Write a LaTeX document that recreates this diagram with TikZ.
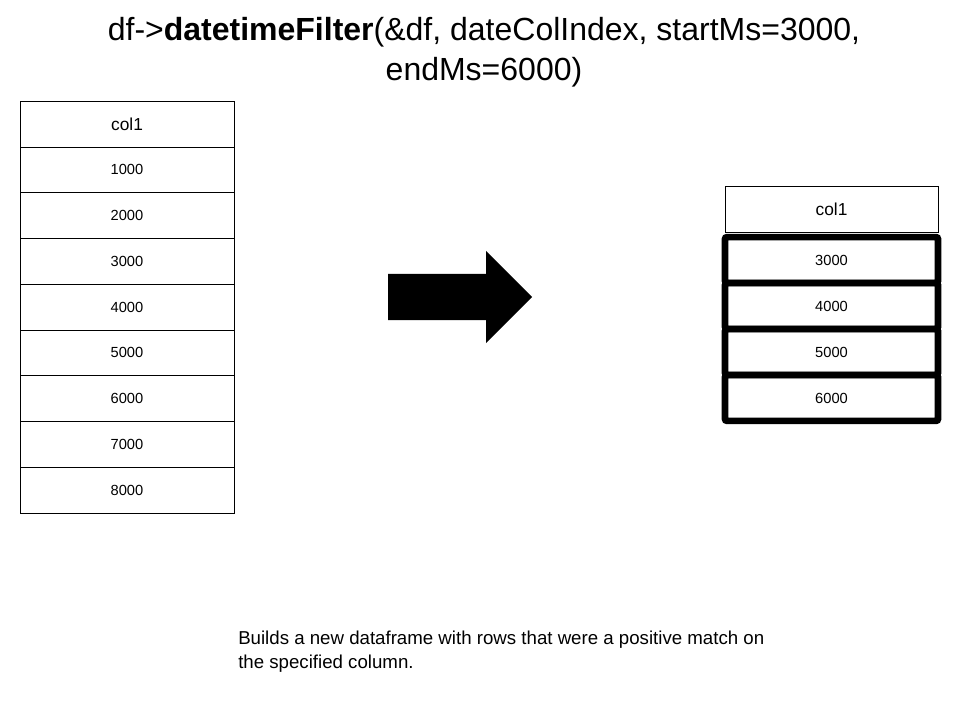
\documentclass[tikz,border=0pt]{standalone}
\usepackage{fontspec}
\setmainfont{Liberation Sans}
\usepackage{tikz}

\begin{document}
\begin{tikzpicture}[x=0.75pt, y=-0.75pt,
                    cell/.style={draw, rectangle, minimum width=160.5pt,
                                  minimum height=34.3pt, inner sep=0pt,
                                  font=\fontsize{11}{13}\selectfont},
                    head/.style={cell, font=\fontsize{13}{15}\selectfont},
                    hit/.style={cell, line width=5pt, rounded corners=1.5pt}]
                      \useasboundingbox (0,0) rectangle (960,720);

                      % title
                      \node[align=center, font=\fontsize{24}{30}\selectfont] (title) at (484,52)
                          {df->\textbf{datetimeFilter}(\&df, dateColIndex, startMs=3000,\\endMs=6000)};

                      % input column
                      \node[head] (L0) at (127,124) {col1};
                      \foreach \i/\v in {1/1000, 2/2000, 3/3000, 4/4000,
                              5/5000, 6/6000, 7/7000, 8/8000} {
                              \node[cell] (L\i) at (127,{124+45.75*\i}) {\v};
                          }

                      % filtered column
                      \node[head, minimum width=159.75pt] (R0) at (831.5,209) {col1};
                      \foreach \i/\v in {1/3000, 2/4000, 3/5000, 4/6000} {
                              \node[hit, minimum width=159.75pt] (R\i) at (831.5,{214+46*\i}) {\v};
                          }

                      % big arrow
                      \fill (388,274) -- (486,274) -- (486,251) -- (532,297)
                          -- (486,343) -- (486,320) -- (388,320) -- cycle;

                      % note
                      \node[align=left, anchor=north west, inner sep=0pt,
                            font=\fontsize{14}{18}\selectfont] (note) at (238,631)
                          {Builds a new dataframe with rows that were a positive match on\\the specified column.};
                  \end{tikzpicture}
\end{document}
